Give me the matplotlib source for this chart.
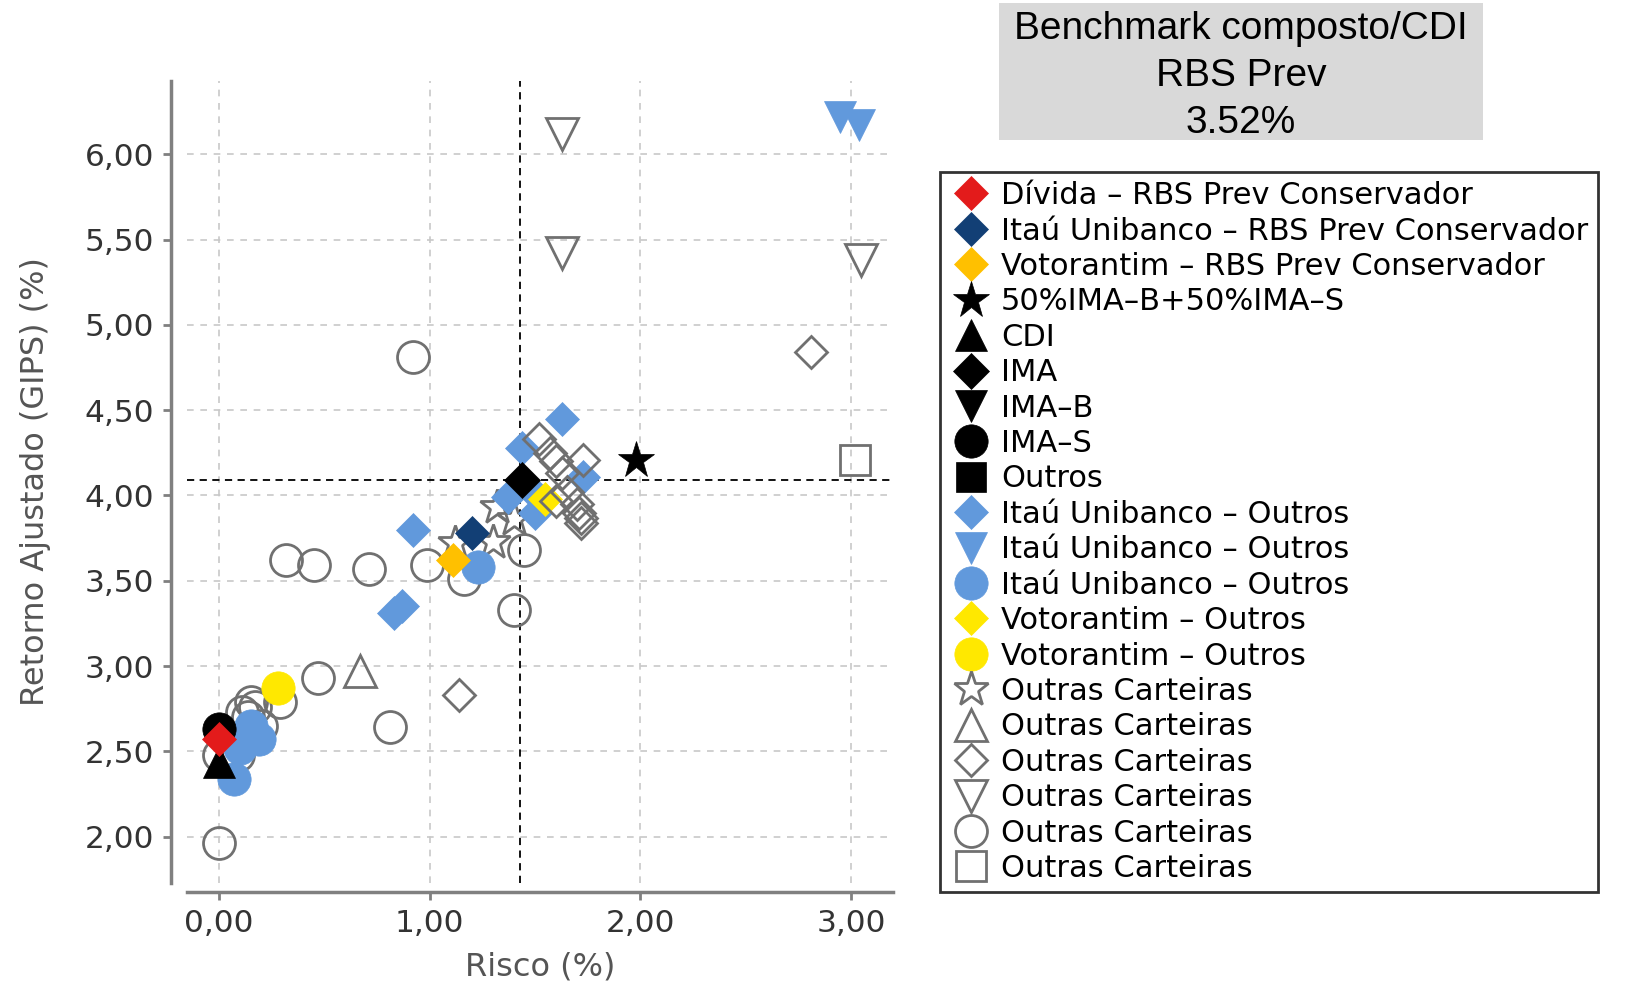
import matplotlib
matplotlib.use('Agg')
import matplotlib.pyplot as plt
from matplotlib.patches import Rectangle
from matplotlib.ticker import FuncFormatter

plt.rcParams['font.family'] = ['DejaVu Sans']

# risco (%) / retorno ajustado (%)
divida_rbs_x = [0.00]
divida_rbs_y = [2.57]
itau_rbs_x = [1.20]
itau_rbs_y = [3.78]
voto_rbs_x = [1.11]
voto_rbs_y = [3.62]
bench_star_x = [1.98]
bench_star_y = [4.21]
cdi_x = [0.00]
cdi_y = [2.44]
ima_x = [1.44]
ima_y = [4.09]
imab_x = []
imab_y = []
imas_x = [0.00]
imas_y = [2.63]
outros_x = []
outros_y = []
itau_out_d_x = [0.92, 0.83, 0.87, 1.44, 1.63, 1.73, 1.37, 1.50, 1.48]
itau_out_d_y = [3.80, 3.31, 3.35, 4.28, 4.45, 4.11, 3.99, 3.90, 4.03]
itau_out_v_x = [2.95, 3.04]
itau_out_v_y = [6.22, 6.17]
itau_out_o_x = [0.15, 0.19, 0.10, 0.07, 1.23]
itau_out_o_y = [2.65, 2.57, 2.52, 2.34, 3.58]
voto_out_d_x = [1.55]
voto_out_d_y = [3.98]
voto_out_o_x = [0.28]
voto_out_o_y = [2.87]
outras_star_x = [1.32, 1.30, 1.12, 1.40]
outras_star_y = [3.93, 3.73, 3.72, 3.86]
outras_tri_x = [0.67]
outras_tri_y = [2.97]
outras_dia_x = [2.81, 1.14, 1.52, 1.57, 1.60, 1.73, 1.63, 1.65, 1.60, 1.71, 1.72, 1.72, 1.70]
outras_dia_y = [4.84, 2.83, 4.33, 4.25, 4.20, 4.21, 4.13, 4.02, 3.97, 3.90, 3.87, 3.84, 3.95]
outras_inv_x = [1.63, 1.63, 3.05]
outras_inv_y = [6.12, 5.42, 5.38]
outras_circ_x = [0.92, 0.32, 0.45, 0.71, 0.99, 1.165, 1.45, 1.40, 0.47, 0.81, 0.00,
                 0.15, 0.17, 0.29, 0.11, 0.20, 0.00, 0.09, 0.14]
outras_circ_y = [4.81, 3.62, 3.59, 3.57, 3.59, 3.51, 3.68, 3.33, 2.93, 2.64, 1.96,
                 2.79, 2.76, 2.79, 2.73, 2.65, 2.48, 2.48, 2.70]
outras_sq_x = [3.02]
outras_sq_y = [4.21]

bench_x = 1.43
bench_y = 4.09

blue = '#6199dc'
gray = '#707070'

# label, x, y, marker, size, face, edge, zorder
series = [
    ('Dívida – RBS Prev Conservador', divida_rbs_x, divida_rbs_y, 'D', 17.5, '#e31b1b', None, 20),
    ('Itaú Unibanco – RBS Prev Conservador', itau_rbs_x, itau_rbs_y, 'D', 17.5, '#123f75', None, 19),
    ('Votorantim – RBS Prev Conservador', voto_rbs_x, voto_rbs_y, 'D', 17.5, '#ffc000', None, 19),
    ('50%IMA–B+50%IMA–S', bench_star_x, bench_star_y, '*', 28, 'black', None, 15),
    ('CDI', cdi_x, cdi_y, '^', 23, 'black', None, 16),
    ('IMA', ima_x, ima_y, 'D', 18, 'black', None, 15),
    ('IMA–B', imab_x, imab_y, 'v', 23, 'black', None, 15),
    ('IMA–S', imas_x, imas_y, 'o', 24, 'black', None, 14),
    ('Outros', outros_x, outros_y, 's', 22, 'black', None, 14),
    ('Itaú Unibanco – Outros', itau_out_d_x, itau_out_d_y, 'D', 17.5, blue, None, 8),
    ('Itaú Unibanco – Outros', itau_out_v_x, itau_out_v_y, 'v', 23, blue, None, 8),
    ('Itaú Unibanco – Outros', itau_out_o_x, itau_out_o_y, 'o', 24, blue, None, 8),
    ('Votorantim – Outros', voto_out_d_x, voto_out_d_y, 'D', 17.5, '#ffe800', None, 9),
    ('Votorantim – Outros', voto_out_o_x, voto_out_o_y, 'o', 24, '#ffe800', None, 9),
    ('Outras Carteiras', outras_star_x, outras_star_y, '*', 26, 'none', gray, 5),
    ('Outras Carteiras', outras_tri_x, outras_tri_y, '^', 23, 'none', gray, 5),
    ('Outras Carteiras', outras_dia_x, outras_dia_y, 'D', 16.5, 'none', gray, 10),
    ('Outras Carteiras', outras_inv_x, outras_inv_y, 'v', 23, 'none', gray, 5),
    ('Outras Carteiras', outras_circ_x, outras_circ_y, 'o', 23, 'none', gray, 5),
    ('Outras Carteiras', outras_sq_x, outras_sq_y, 's', 22, 'none', gray, 5),
]

fig = plt.figure(figsize=(16.32, 9.82), dpi=100)
ax = fig.add_axes([0.1148, 0.1012, 0.4324, 0.8163])

handles = []
for label, xs, ys, mk, ms, fc, ec, z in series:
    if ec is None:
        h, = ax.plot(xs, ys, ls='none', marker=mk, markersize=ms, markerfacecolor=fc,
                     markeredgecolor=fc, markeredgewidth=0.5, zorder=z, label=label)
    else:
        h, = ax.plot(xs, ys, ls='none', marker=mk, markersize=ms, markerfacecolor=fc,
                     markeredgecolor=ec, markeredgewidth=2.0, zorder=z, label=label)
    handles.append(h)

ax.axvline(bench_x, color='black', lw=1.3, dashes=(4, 3), zorder=3)
ax.axhline(bench_y, color='black', lw=1.3, dashes=(4, 3), zorder=3)

ax.set_xlim(-0.15, 3.2)
ax.set_ylim(1.73, 6.43)
ax.set_xticks([0, 1, 2, 3])
ax.set_yticks([2.0, 2.5, 3.0, 3.5, 4.0, 4.5, 5.0, 5.5, 6.0])
fmt = FuncFormatter(lambda v, p: ('%.2f' % v).replace('.', ','))
ax.xaxis.set_major_formatter(fmt)
ax.yaxis.set_major_formatter(fmt)
ax.grid(True, color='#c8c8c8', lw=1.2, dashes=(4, 4), zorder=0)
ax.set_axisbelow(True)

for s in ['top', 'right']:
    ax.spines[s].set_visible(False)
ax.spines['left'].set_position(('outward', 12))
ax.spines['bottom'].set_position(('outward', 7))
for s in ['left', 'bottom']:
    ax.spines[s].set_color('#808080')
    ax.spines[s].set_linewidth(2.5)
ax.tick_params(colors='#808080', labelcolor='#333333', labelsize=22.5, length=6, width=2, pad=6)

ax.set_xlabel('Risco (%)', fontsize=23, color='#555555', labelpad=10)
ax.set_ylabel('Retorno Ajustado (GIPS) (%)', fontsize=23, color='#555555', labelpad=24)

# benchmark box
fig.patches.append(Rectangle((999 / 1632, 1 - 140 / 982), 484 / 1632, 137 / 982,
                             transform=fig.transFigure, facecolor='#d9d9d9',
                             edgecolor='none', zorder=0))
fig.text(1241 / 1632, 1 - 76 / 982, 'Benchmark composto/CDI\nRBS Prev\n3.52%',
         ha='center', va='center', fontsize=28, family='Liberation Sans',
         linespacing=1.38, color='black')

leg = fig.legend(handles=handles, loc='upper left', bbox_to_anchor=(940 / 1632, 1 - 172 / 982),
                 fontsize=22, frameon=True, fancybox=False, edgecolor='black',
                 borderpad=0.3, labelspacing=0.21, handlelength=1.4, handletextpad=0.3,
                 borderaxespad=0, numpoints=1)
leg.get_frame().set_linewidth(2)

fig.savefig('out.png', dpi=100)
